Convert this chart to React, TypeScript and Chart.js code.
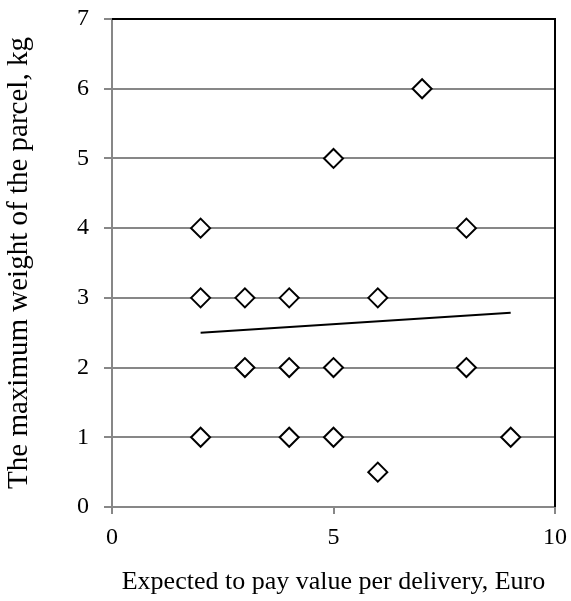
import React, { useEffect, useRef } from "react";
import { Chart, registerables } from "chart.js";

Chart.register(...registerables);

const payValues = [2, 2, 3, 4, 6, 7, 5, 8, 3, 4, 5, 8, 2, 4, 5, 9, 6];
const weightValues = [4, 3, 3, 3, 3, 6, 5, 4, 2, 2, 2, 2, 1, 1, 1, 1, 0.5];
const trendX = [2, 9];
const trendY = [2.5, 2.785];
const xTicks = [0, 5, 10];
const yTicks = [0, 1, 2, 3, 4, 5, 6, 7];
const xTitle = "Expected to pay value per delivery, Euro";
const yTitle = "The maximum weight of the parcel, kg";

const GRAY = "#878787";
const FONT = "'Liberation Serif', 'Times New Roman', serif";

const frameBorder = {
  id: "frameBorder",
  afterDatasetsDraw(chart: any) {
    const { ctx, chartArea } = chart;
    ctx.save();
    ctx.strokeStyle = "#000";
    ctx.lineWidth = 2;
    ctx.beginPath();
    ctx.moveTo(chartArea.left, chartArea.top);
    ctx.lineTo(chartArea.right, chartArea.top);
    ctx.lineTo(chartArea.right, chartArea.bottom);
    ctx.stroke();
    ctx.restore();
  },
};

export default function App() {
  const ref = useRef<HTMLCanvasElement>(null);
  useEffect(() => {
    if (!ref.current) return;
    const chart = new Chart(ref.current, {
      type: "scatter",
      data: {
        datasets: [
          {
            type: "line",
            data: trendX.map((x, i) => ({ x, y: trendY[i] })),
            borderColor: "#000",
            borderWidth: 2,
            pointRadius: 0,
            fill: false,
          } as any,
          {
            data: payValues.map((x, i) => ({ x, y: weightValues[i] })),
            pointStyle: "rectRot",
            pointRadius: 9.5,
            pointBorderWidth: 2,
            pointBackgroundColor: "#fff",
            pointBorderColor: "#000",
            borderColor: "#000",
            backgroundColor: "#fff",
          },
        ],
      },
      options: {
        animation: false,
        responsive: false,
        layout: { padding: { top: 19, right: 16, left: 0, bottom: 0 } },
        plugins: { legend: { display: false }, tooltip: { enabled: false } },
        scales: {
          x: {
            type: "linear",
            min: 0,
            max: 10,
            afterBuildTicks: (s: any) => {
              s.ticks = xTicks.map((v) => ({ value: v }));
            },
            afterFit: (s: any) => {
              s.height = 94;
              s.paddingLeft = 0;
              s.paddingRight = 0;
            },
            grid: {
              drawOnChartArea: false,
              drawTicks: true,
              tickLength: 7,
              color: GRAY,
              lineWidth: 2,
            },
            border: { color: GRAY, width: 2 },
            ticks: {
              color: "#000",
              font: { family: FONT, size: 24 },
              padding: 9,
              maxRotation: 0,
            },
            title: {
              display: true,
              text: xTitle,
              color: "#000",
              font: { family: FONT, size: 26 },
              padding: { top: 0, bottom: 3 },
            },
          },
          y: {
            type: "linear",
            min: 0,
            max: 7,
            afterBuildTicks: (s: any) => {
              s.ticks = yTicks.map((v) => ({ value: v }));
            },
            afterFit: (s: any) => {
              s.width = 112;
              s.paddingTop = 0;
              s.paddingBottom = 0;
            },
            grid: {
              drawOnChartArea: true,
              drawTicks: true,
              tickLength: 8,
              color: GRAY,
              lineWidth: 2,
            },
            border: { color: GRAY, width: 2 },
            ticks: {
              color: "#000",
              font: { family: FONT, size: 24 },
              padding: 15,
            },
            title: {
              display: true,
              text: yTitle,
              color: "#000",
              font: { family: FONT, size: 29 },
              padding: { top: 2, bottom: 0 },
            },
          },
        },
      },
      plugins: [frameBorder],
    });
    return () => chart.destroy();
  }, []);
  return (
    <div style={{ position: "absolute", left: 0, top: 0, width: 571, height: 601, background: "#fff" }}>
      <canvas ref={ref} width={571} height={601} style={{ display: "block" }} />
    </div>
  );
}
